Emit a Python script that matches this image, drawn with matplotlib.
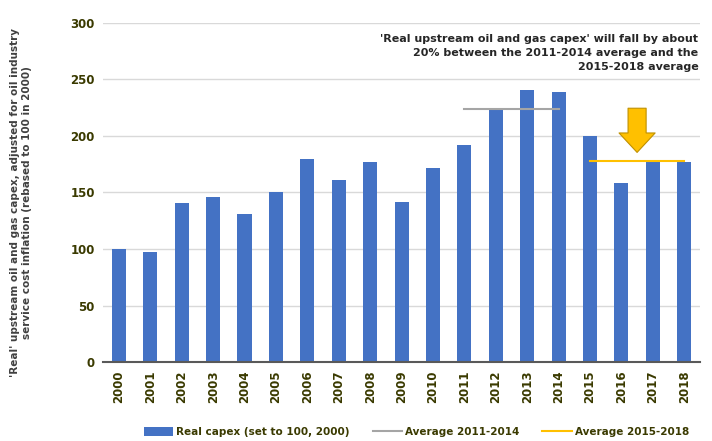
import matplotlib.pyplot as plt
import numpy as np

years = [str(y) for y in range(2000, 2019)]
capex = [100, 97, 141, 146, 131, 150, 180, 161, 177, 142, 172, 192, 225, 241, 239, 200, 158, 177, 177]
avg_1114 = np.mean(capex[11:15])
avg_1518 = np.mean(capex[15:19])

plt.rcParams['font.family'] = ['Liberation Sans Narrow', 'DejaVu Sans']

fig = plt.figure(figsize=(7.12, 4.41), dpi=100)
ax = fig.add_axes([0.145, 0.179, 0.838, 0.769])

x = np.arange(len(years))
bars = ax.bar(x, capex, width=0.45, color='#4472C4', label='Real capex (set to 100, 2000)', zorder=2)

# averages
l1, = ax.plot([x[11], x[14]], [avg_1114, avg_1114], color='#A5A5A5', lw=1.5, label='Average 2011-2014', zorder=3)
l2, = ax.plot([x[15], x[18]], [avg_1518, avg_1518], color='#FFC000', lw=1.5, label='Average 2015-2018', zorder=3)

# arrow
ax.annotate('', xy=(16.5, 183), xytext=(16.5, 227),
            arrowprops=dict(arrowstyle='simple,head_width=2.6,head_length=1.4,tail_width=1.3',
                            fc='#FFC000', ec='#BF9000', lw=0.8), zorder=4)

ax.text(18.45, 290, "'Real upstream oil and gas capex' will fall by about\n20% between the 2011-2014 average and the\n2015-2018 average",
        ha='right', va='top', fontsize=8, fontweight='bold', color='#262626', linespacing=1.5, zorder=5)

ax.set_xlim(-0.5, 18.5)
ax.set_ylim(0, 300)
ax.set_yticks(range(0, 301, 50))
ax.set_xticks(x)
ax.set_xticklabels(years, rotation=90)
ax.tick_params(axis='both', length=0, labelsize=8.5, labelcolor='#3A3A00', pad=6)
for lab in ax.get_xticklabels() + ax.get_yticklabels():
    lab.set_fontweight('bold')
ax.grid(axis='y', color='#D9D9D9', lw=1, zorder=0)
for s in ['top', 'right', 'left']:
    ax.spines[s].set_visible(False)
ax.spines['bottom'].set_color('#595959')
ax.spines['bottom'].set_linewidth(1.5)

ax.set_ylabel("'Real' upstream oil and gas capex, adjusted for oil industry\nservice cost inflation (rebased to 100 in 2000)",
              fontsize=7.5, color='#404040', fontweight='bold')
ax.yaxis.set_label_coords(-0.12, 0.47)

leg = fig.legend([bars, l1, l2], [bars.get_label(), l1.get_label(), l2.get_label()],
                 loc='center', bbox_to_anchor=(0.585, 0.02), ncol=3, frameon=False,
                 handlelength=2.8, handleheight=0.9, columnspacing=2.2, handletextpad=0.3,
                 prop={'weight': 'bold', 'size': 7.5})
for t in leg.get_texts():
    t.set_color('#3A3A00')

fig.savefig('out.png', dpi=100)
